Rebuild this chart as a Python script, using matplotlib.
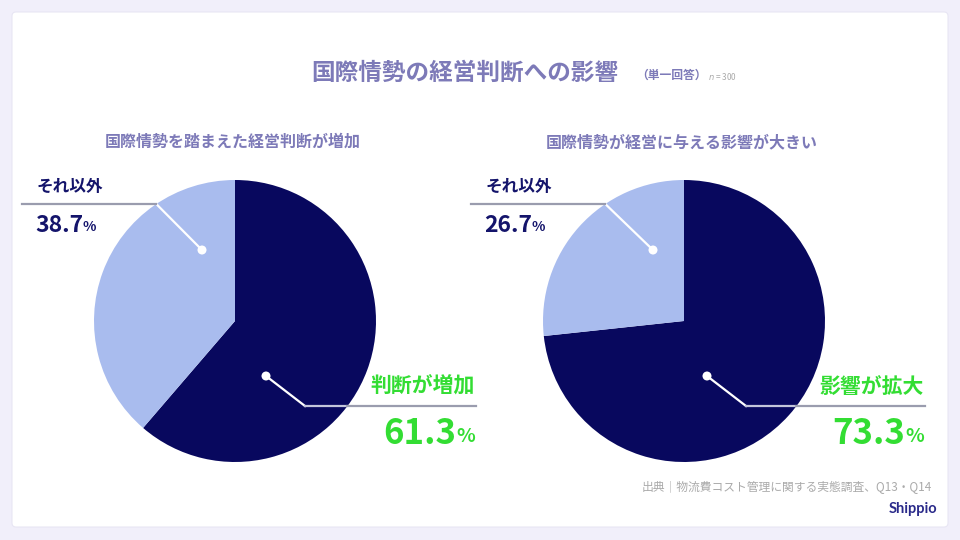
import numpy as np
import matplotlib.pyplot as plt
from matplotlib.patches import FancyBboxPatch, Circle

plt.rcParams['font.family'] = ['Noto Sans CJK JP', 'DejaVu Sans']

# data
title = '国際情勢の経営判断への影響'
subtitles = ['国際情勢を踏まえた経営判断が増加', '国際情勢が経営に与える影響が大きい']
main_labels = ['判断が増加', '影響が拡大']
other_label = 'それ以外'
main_values = [61.3, 73.3]
other_values = [38.7, 26.7]
source = '出典｜物流費コスト管理に関する実態調査、Q13・Q14'

DARK = '#08085e'
LIGHT = '#a9bcee'
TITLE_C = '#7d7ab8'
GREEN = '#33dd33'
NAVY = '#14146b'
LINE_C = '#9a9cae'

W, H = 960, 540
fig = plt.figure(figsize=(9.6, 5.4), dpi=100)
fig.patch.set_facecolor('#f1effa')
ax = fig.add_axes([0, 0, 1, 1])

def py(y):  # pixel row -> data y
    return H - y

# white card
card = FancyBboxPatch((12, py(527)), 936, 515, boxstyle='round,pad=0,rounding_size=4',
                      fc='white', ec='#e8e6f4', lw=0.8, zorder=0)
ax.add_patch(card)

R = 141
centers = [235, 684]
dots_other = [(-33, 71), (-31, 71)]
dots_main = [(31, -55), (23, -55)]
elbow_main_dx = [70, 62]

for i, cx in enumerate(centers):
    cy = py(321)
    ax.pie([main_values[i], other_values[i]], colors=[DARK, LIGHT], startangle=90,
           counterclock=False, center=(cx, cy), radius=R,
           wedgeprops=dict(linewidth=0), frame=True)

    ax.text(cx - 2, py(142), subtitles[i], ha='center', va='center', fontsize=11.5,
            color=TITLE_C, fontweight='bold')

    # other-slice callout
    dx, dy = dots_other[i]
    ey = 321 - 204
    ex = cx - np.sqrt(R**2 - ey**2)
    ax.plot([cx + dx, ex], [cy + dy, cy + ey], color='white', lw=1.6, zorder=5)
    ax.plot([ex, cx - 213], [cy + ey, cy + ey], color=LINE_C, lw=1.6, zorder=5)
    ax.add_patch(Circle((cx + dx, cy + dy), 4.5, fc='white', ec='none', zorder=6))
    ax.text(cx - 198, py(187), other_label, ha='left', va='center', fontsize=12,
            color=NAVY, fontweight='bold')
    num = ax.text(cx - 200, py(225), f'{other_values[i]}', ha='left', va='center',
                  fontsize=16.5, color=NAVY, fontweight='bold')
    ax.annotate('%', xy=(1, 0), xycoords=num, xytext=(-0.5, 2),
                textcoords='offset points', ha='left', va='bottom', fontsize=10,
                color=NAVY, fontweight='bold')

    # main-slice callout
    dx, dy = dots_main[i]
    ex = cx + elbow_main_dx[i]
    ey = -85
    edge = cx + np.sqrt(R**2 - ey**2)
    ax.plot([cx + dx, ex], [cy + dy, cy + ey], color='white', lw=1.6, zorder=5)
    ax.plot([ex, edge], [cy + ey, cy + ey], color='#c4c6dc', lw=1.6, zorder=5)
    ax.plot([edge, cx + 241], [cy + ey, cy + ey], color=LINE_C, lw=1.6, zorder=5)
    ax.add_patch(Circle((cx + dx, cy + dy), 4.5, fc='white', ec='none', zorder=6))
    ax.text(cx + 240, py(386), main_labels[i], ha='right', va='center', fontsize=15,
            color=GREEN, fontweight='bold')
    pct = ax.text(cx + 221, py(433), f'{main_values[i]}', ha='right', va='center',
                  fontsize=25, color=GREEN, fontweight='bold')
    ax.annotate('%', xy=(1, 0), xycoords=pct, xytext=(0, 3),
                textcoords='offset points', ha='left', va='bottom', fontsize=14,
                color=GREEN, fontweight='bold')

# title
ax.text(465, py(73), title, ha='center', va='center', fontsize=17,
        color=TITLE_C, fontweight='bold')
ax.text(636, py(75), '（単一回答）', ha='left', va='center', fontsize=8.5,
        color=TITLE_C, fontweight='bold')
ax.text(708, py(77), '$n$ = 300', ha='left', va='center', fontsize=6, color='#aaaaaa')

# footer
ax.text(932, py(487), source, ha='right', va='center', fontsize=8.5, color='#aaaaaa')
ax.text(937, py(509), 'Shippio', ha='right', va='center', fontsize=10.5,
        color='#2a2a8a', fontweight='bold', family=['Lato', 'DejaVu Sans'])

ax.set_xlim(0, W)
ax.set_ylim(0, H)
ax.set_aspect('equal')
ax.axis('off')

fig.savefig('out.png', dpi=100, facecolor=fig.get_facecolor())
